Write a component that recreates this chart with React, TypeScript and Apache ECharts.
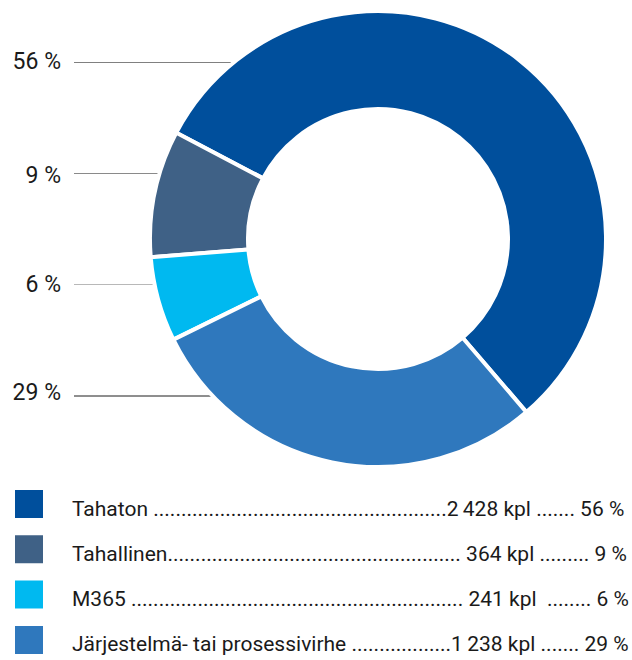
import React, { useEffect, useRef } from "react";
import * as echarts from "echarts";

// ---- data ----
const CATEGORIES = ["Tahaton", "Tahallinen", "M365", "Järjestelmä- tai prosessivirhe"];
const COUNTS = ["2\u2009428", "364", "241", "1\u2009238"]; // kpl
const SHARES = [56, 9, 6, 29]; // %
const COLORS = ["#004f9c", "#3f6186", "#00b9f0", "#2f78bd"];
const LINE_COLORS = ["#808080", "#8a8a8a", "#b8b8b8", "#1e1e1e"];

// ---- layout (positions, not data) ----
const CX = 378;
const CY = 239;
const R_IN = 130;
const R_OUT = 228;
const LABEL_TEXT_Y = [61.5, 175, 284.5, 392];
const LABEL_LINE_Y = [62.5, 173.5, 284.5, 396];
const LEAD_DOTS = [53, 53, 60, 18];
const TRAIL_DOTS = [7, 9, 8, 7];

const dots = (n: number) => ".".repeat(n);

function legendText(i: number): string {
  const name = CATEGORIES[i];
  const c = COUNTS[i];
  const s = SHARES[i];
  if (i === 0) return `${name} ${dots(LEAD_DOTS[i])}${c} kpl ${dots(TRAIL_DOTS[i])} ${s} %`;
  if (i === 1) return `${name}${dots(LEAD_DOTS[i])} ${c} kpl ${dots(TRAIL_DOTS[i])} ${s} %`;
  if (i === 2) return `${name} ${dots(LEAD_DOTS[i])} ${c} kpl  ${dots(TRAIL_DOTS[i])} ${s} %`;
  return `${name} ${dots(LEAD_DOTS[i])}${c} kpl ${dots(TRAIL_DOTS[i])} ${s} %`;
}

export default function App() {
  const ref = useRef<HTMLDivElement>(null);
  useEffect(() => {
    if (!ref.current) return;
    const chart = echarts.init(ref.current, null, { renderer: "svg" });
    const option = {
      animation: false,
      textStyle: { fontFamily: "Roboto" },
      legend: {
        orient: "vertical",
        left: 13,
        top: 488,
        height: 220,
        padding: 0,
        itemWidth: 30,
        itemHeight: 30,
        itemGap: 13.3,
        icon: "rect",
        selectedMode: false,
        data: CATEGORIES,
        formatter: (name: string) => `{s|}{t|${legendText(CATEGORIES.indexOf(name))}}`,
        textStyle: {
          fontFamily: "Roboto",
          fontSize: 21,
          color: "#1a1a1a",
          rich: {
            s: { width: 23, height: 30 },
            t: {
              fontFamily: "Roboto",
              fontSize: 21,
              lineHeight: 18,
              color: "#1a1a1a",
              verticalAlign: "bottom",
            },
          },
        },
      },
      series: [
        {
          type: "pie",
          center: [CX, CY],
          radius: [R_IN, R_OUT],
          startAngle: -49.4,
          clockwise: false,
          silent: true,
          itemStyle: { borderColor: "#ffffff", borderWidth: 4 },
          label: {
            show: true,
            position: "outside",
            formatter: (p: any) => `${p.value} %`,
            fontFamily: "Roboto",
            fontSize: 23,
            color: "#1a1a1a",
          },
          labelLine: { show: true, lineStyle: { width: 1 } },
          labelLayout: (params: any) => {
            const i = params.dataIndex;
            const ly = LABEL_LINE_Y[i];
            const dy = ly - CY;
            const ex = CX - Math.sqrt(R_OUT * R_OUT - dy * dy) + 3;
            return {
              x: 61,
              y: LABEL_TEXT_Y[i],
              align: "right",
              verticalAlign: "middle",
              labelLinePoints: [
                [ex, ly],
                [ex, ly],
                [74, ly],
              ],
            };
          },
          data: CATEGORIES.map((name, i) => ({
            name,
            value: SHARES[i],
            itemStyle: { color: COLORS[i] },
            labelLine: { lineStyle: { color: LINE_COLORS[i], width: 1 } },
          })),
        },
      ],
    };
    chart.setOption(option as any);
    return () => chart.dispose();
  }, []);
  return (
    <div
      ref={ref}
      style={{ position: "absolute", left: 0, top: 0, width: 632, height: 660 }}
    />
  );
}
